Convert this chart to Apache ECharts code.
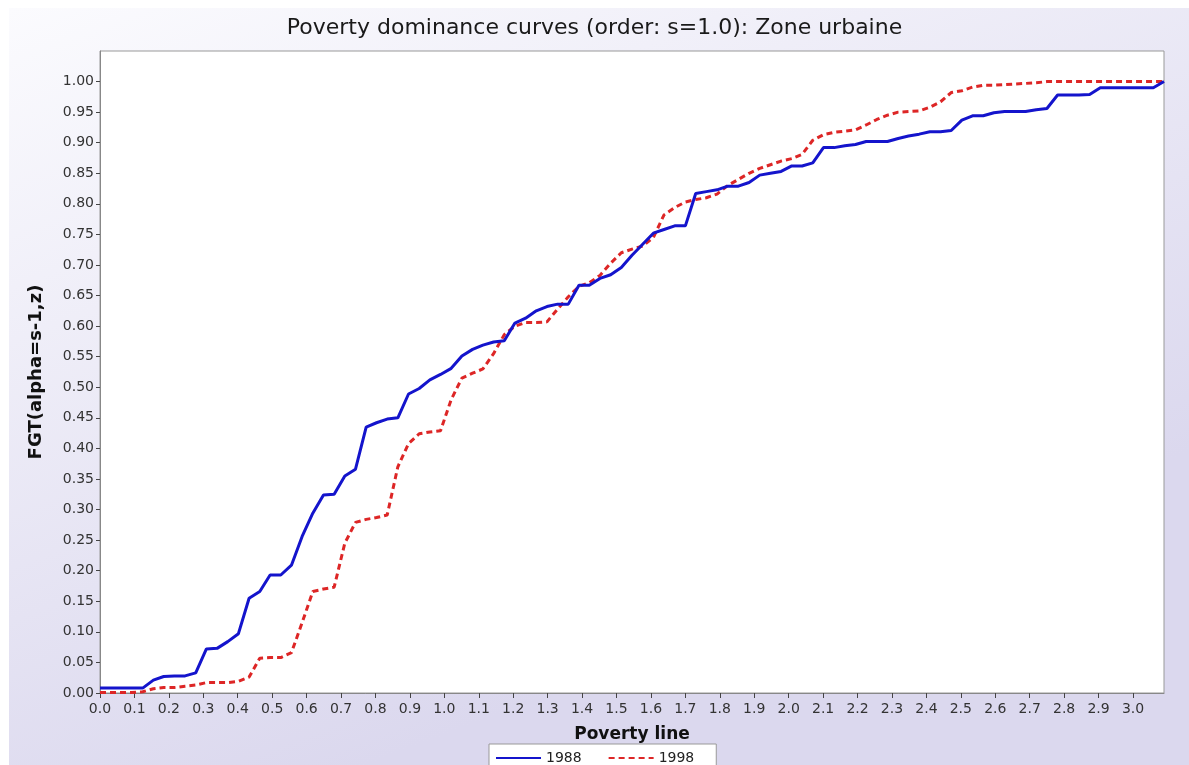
<!DOCTYPE html>
<html>
<head>
<meta charset="utf-8">
<title>Poverty dominance curves</title>
<script src="https://cdn.jsdelivr.net/npm/echarts@6/dist/echarts.min.js"></script>
<style>
  html, body { margin: 0; padding: 0; background: #fff; }
  #main { width: 1189px; height: 765px; }
</style>
</head>
<body>
<div id="main"></div>
<script>
"use strict";
// poverty line grid (x)
var povertyLine = [
  0, 0.031, 0.062, 0.093, 0.124, 0.155, 0.185, 0.216, 0.247, 0.278,
  0.309, 0.340, 0.371, 0.402, 0.433, 0.464, 0.494, 0.525, 0.556, 0.587,
  0.618, 0.649, 0.680, 0.711, 0.742, 0.773, 0.803, 0.834, 0.865, 0.896,
  0.927, 0.958, 0.989, 1.020, 1.051, 1.082, 1.112, 1.143, 1.174, 1.205,
  1.236, 1.267, 1.298, 1.329, 1.360, 1.391, 1.421, 1.452, 1.483, 1.514,
  1.545, 1.576, 1.607, 1.638, 1.669, 1.700, 1.730, 1.761, 1.792, 1.823,
  1.854, 1.885, 1.916, 1.947, 1.978, 2.009, 2.039, 2.070, 2.101, 2.132,
  2.163, 2.194, 2.225, 2.256, 2.287, 2.318, 2.348, 2.379, 2.410, 2.441,
  2.472, 2.503, 2.534, 2.565, 2.596, 2.627, 2.657, 2.688, 2.719, 2.750,
  2.781, 2.812, 2.843, 2.874, 2.905, 2.936, 2.966, 2.997, 3.028, 3.059,
  3.090
];

// FGT 1988
var fgt1988 = [
  0.008, 0.008, 0.008, 0.008, 0.008, 0.021, 0.027, 0.028, 0.028, 0.033,
  0.072, 0.073, 0.084, 0.097, 0.155, 0.166, 0.193, 0.193, 0.209, 0.256,
  0.294, 0.324, 0.325, 0.355, 0.366, 0.435, 0.442, 0.448, 0.450, 0.489,
  0.498, 0.512, 0.521, 0.531, 0.551, 0.562, 0.569, 0.574, 0.576, 0.605,
  0.613, 0.625, 0.632, 0.636, 0.636, 0.667, 0.667, 0.678, 0.684, 0.696,
  0.716, 0.734, 0.752, 0.758, 0.764, 0.764, 0.817, 0.820, 0.823, 0.829,
  0.829, 0.835, 0.847, 0.850, 0.853, 0.862, 0.862, 0.867, 0.892, 0.892,
  0.895, 0.897, 0.902, 0.902, 0.902, 0.907, 0.911, 0.914, 0.918, 0.918,
  0.920, 0.937, 0.944, 0.944, 0.949, 0.951, 0.951, 0.951, 0.954, 0.956,
  0.978, 0.978, 0.978, 0.979, 0.990, 0.990, 0.990, 0.990, 0.990, 0.990,
  1.000
];

// FGT 1998
var fgt1998 = [
  0.001, 0.001, 0.001, 0.001, 0.002, 0.007, 0.009, 0.009, 0.011, 0.013,
  0.017, 0.017, 0.017, 0.019, 0.026, 0.057, 0.058, 0.058, 0.066, 0.115,
  0.166, 0.170, 0.173, 0.245, 0.279, 0.284, 0.287, 0.291, 0.370, 0.408,
  0.424, 0.427, 0.429, 0.480, 0.515, 0.523, 0.530, 0.555, 0.586, 0.600,
  0.606, 0.606, 0.607, 0.628, 0.648, 0.665, 0.671, 0.683, 0.703, 0.720,
  0.726, 0.731, 0.745, 0.782, 0.794, 0.803, 0.807, 0.810, 0.816, 0.830,
  0.840, 0.850, 0.858, 0.864, 0.870, 0.874, 0.881, 0.904, 0.913, 0.917,
  0.919, 0.921, 0.929, 0.938, 0.945, 0.950, 0.951, 0.952, 0.958, 0.967,
  0.982, 0.985, 0.991, 0.994, 0.994, 0.995, 0.996, 0.997, 0.998, 1.000,
  1.000, 1.000, 1.000, 1.000, 1.000, 1.000, 1.000, 1.000, 1.000, 1.000,
  1.000
];

var seriesNames = ['1988', '1998'];

// tick positions shown on the axes
var xTicks = [
  0, 0.1, 0.2, 0.3, 0.4, 0.5, 0.6, 0.7, 0.8, 0.9, 1.0,
  1.1, 1.2, 1.3, 1.4, 1.5, 1.6, 1.7, 1.8, 1.9, 2.0,
  2.1, 2.2, 2.3, 2.4, 2.5, 2.6, 2.7, 2.8, 2.9, 3.0
];
var yTicks = [
  0, 0.05, 0.10, 0.15, 0.20, 0.25, 0.30, 0.35, 0.40, 0.45, 0.50,
  0.55, 0.60, 0.65, 0.70, 0.75, 0.80, 0.85, 0.90, 0.95, 1.00
];

function pairs(xs, ys) {
  var out = [];
  for (var i = 0; i < xs.length; i++) {
    out.push([xs[i], ys[i]]);
  }
  return out;
}

var font = 'DejaVu Sans, Verdana, sans-serif';
var dom = document.getElementById('main');
var myChart = echarts.init(dom, null, { renderer: 'canvas' });

var option = {
  backgroundColor: '#fff',
  animation: false,
  graphic: [{
    type: 'rect',
    z: -10,
    silent: true,
    shape: { x: 9, y: 8, width: 1189, height: 780 },
    style: {
      fill: new echarts.graphic.LinearGradient(0, 0, 0.25, 1, [
        { offset: 0, color: '#fbfbfe' },
        { offset: 1, color: '#dbd8ee' }
      ])
    }
  }],
  title: {
    text: 'Poverty dominance curves (order: s=1.0): Zone urbaine',
    left: 'center',
    top: 12,
    textStyle: { fontFamily: font, fontSize: 22, fontWeight: 'normal', color: '#1a1a1a' }
  },
  grid: {
    left: 100, top: 51, right: 25, bottom: 72,
    show: true, backgroundColor: '#fff', borderColor: '#999', borderWidth: 1
  },
  legend: {
    data: seriesNames,
    left: 489,
    top: 744,
    itemWidth: 45,
    itemHeight: 12,
    itemGap: 26,
    padding: [7, 22, 10, 6],
    backgroundColor: '#fff',
    borderColor: '#999',
    borderWidth: 1,
    borderRadius: 0,
    itemStyle: { opacity: 0 },
    textStyle: { fontFamily: font, fontSize: 14, color: '#222' }
  },
  xAxis: {
    type: 'value',
    min: 0,
    max: 3.09,
    interval: 0.1,
    name: 'Poverty line',
    nameLocation: 'middle',
    nameGap: 33,
    nameTextStyle: { fontFamily: font, fontSize: 17, fontWeight: 'bold', color: '#111' },
    axisLine: { show: true, lineStyle: { color: '#888', width: 1 } },
    axisTick: { show: true, length: 5, customValues: xTicks, lineStyle: { color: '#444' } },
    splitLine: { show: false },
    axisLabel: {
      margin: 9,
      customValues: xTicks,
      fontFamily: font, fontSize: 14, color: '#333',
      formatter: function (v) {
        return v.toFixed(1);
      }
    }
  },
  yAxis: {
    type: 'value',
    min: 0,
    max: 1.05,
    interval: 0.05,
    name: 'FGT(alpha=s-1,z)',
    nameLocation: 'middle',
    nameGap: 55,
    nameTextStyle: { fontFamily: font, fontSize: 18, fontWeight: 'bold', color: '#111' },
    axisLine: { show: true, lineStyle: { color: '#888', width: 1 } },
    axisTick: { show: true, length: 4, customValues: yTicks, lineStyle: { color: '#444' } },
    splitLine: { show: false },
    axisLabel: {
      margin: 6,
      customValues: yTicks,
      fontFamily: font, fontSize: 14, color: '#333',
      formatter: function (v) {
        return v.toFixed(2);
      }
    }
  },
  series: [{
    name: seriesNames[0],
    type: 'line',
    data: pairs(povertyLine, fgt1988),
    symbol: 'none',
    lineStyle: { color: '#1414cc', width: 3 },
    itemStyle: { color: '#1414cc' },
    z: 3
  }, {
    name: seriesNames[1],
    type: 'line',
    data: pairs(povertyLine, fgt1998),
    symbol: 'none',
    lineStyle: { color: '#dd2626', width: 3, type: [6, 4] },
    itemStyle: { color: '#dd2626' },
    z: 2
  }]
};

if (option && typeof option === "object") {
  myChart.setOption(option, true);
}
</script>
</body>
</html>
